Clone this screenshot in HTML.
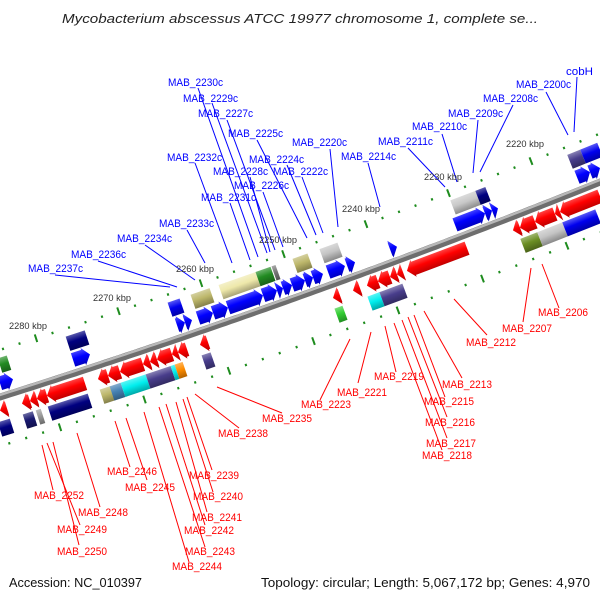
<!DOCTYPE html>
<html><head><meta charset="utf-8"><style>
html,body{margin:0;padding:0;background:#fff;width:600px;height:600px;overflow:hidden}
svg{display:block;font-family:"Liberation Sans","DejaVu Sans",sans-serif}
</style></head><body>
<svg id="map" width="600" height="600" viewBox="0 0 600 600" xmlns="http://www.w3.org/2000/svg">
<defs id="defs"></defs>
<rect width="600" height="600" fill="#fff"/>
<text x="300" y="23" text-anchor="middle" font-size="13" font-style="italic" fill="#222" textLength="476" lengthAdjust="spacingAndGlyphs">Mycobacterium abscessus ATCC 19977 chromosome 1, complete se...</text>
<g id="lines"></g>
<g id="ticks"></g>
<g id="backbone"></g>
<g id="feats"></g>
<g id="labels"></g>
<text x="9" y="587" font-size="13" fill="#111" textLength="133" lengthAdjust="spacingAndGlyphs">Accession: NC_010397</text>
<text x="590" y="587" text-anchor="end" font-size="13" fill="#111" textLength="329" lengthAdjust="spacingAndGlyphs">Topology: circular; Length: 5,067,172 bp; Genes: 4,970</text>
</svg>
<script>
const Y0=397, B1=-0.315, C2=-7.2e-5;
const rowOffsets={B:-13,U:-30,R:13,L:31};
const blueGenes=[[0,13],[73,90],[177,185],[185,192],[198,213],[213,228],[228,263],[263,277],[277,283],[283,292],[292,305],[305,313],[313,323],[328,345],[347,355],[390,397],[455,485],[485,492],[492,498],[577,590],[590,600]];
const redGenes=[[0,7],[22,30],[30,37],[37,47],[47,85],[98,108],[108,120],[120,143],[143,150],[150,157],[157,172],[172,178],[178,187],[200,208],[333,340],[353,360],[367,378],[378,390],[390,397],[397,403],[407,467],[513,520],[520,535],[535,555],[555,560],[560,600]];
const upperBoxes=[[0,9,"#228b22"],[68,87,"#000080"],[170,182,"#0000ee"],[193,212,"#bdb76b"],[221,258,"#eee8aa"],[258,273,"#228b22"],[274,278,"#777777"],[295,310,"#bdb76b"],[322,340,"#c4c4c4"],[453,478,"#c8c8c8"],[478,488,"#000080"],[570,583,"#483d8b"],[583,600,"#0000ee"]];
const lowerBoxes=[[0,12,"#000080"],[25,35,"#191970"],[38,43,"#999999"],[50,90,"#000080"],[102,113,"#bdb76b"],[112,123,"#4682b4"],[123,148,"#00eeee"],[148,173,"#483d8b"],[173,177,"#00eeee"],[177,185,"#ff8c00"],[204,213,"#483d8b"],[337,345,"#32cd32"],[370,382,"#00eeee"],[382,405,"#483d8b"],[523,540,"#6b8e23"],[540,565,"#c4c4c4"],[565,598,"#0000ee"]];
const upperTickStart=531, upperTickStep=82.5;
const lowerTickStart=567, lowerTickStep=84.5;
const tickLabels=[["2220 kbp",506,147],["2230 kbp",424,180],["2240 kbp",342,212],["2250 kbp",259,243],["2260 kbp",176,272],["2270 kbp",93,301],["2280 kbp",9,329]];
const blueLabels=[
["MAB_2230c",168,86,198,88,258,257],["MAB_2229c",183,102,212,103,267,253],["MAB_2227c",198,117,227,120,275,250],
["MAB_2225c",228,137,257,140,307,238],["MAB_2220c",292,146,330,149,338,227],["MAB_2214c",341,160,368,163,380,207],
["MAB_2232c",167,161,195,163,232,263],["MAB_2224c",249,163,287,165,316,235],["MAB_2228c",213,175,250,177,270,252],
["MAB_2222c",273,175,302,177,323,233],["MAB_2226c",234,189,263,192,283,247],["MAB_2231c",201,201,230,203,250,260],
["MAB_2233c",159,227,187,230,205,263],["MAB_2234c",117,242,145,245,195,280],["MAB_2236c",71,258,98,261,177,287],
["MAB_2237c",28,272,55,275,170,287],["MAB_2211c",378,145,408,148,445,187],["MAB_2210c",412,130,442,134,457,182],
["MAB_2209c",448,117,478,120,473,173],["MAB_2208c",483,102,513,105,480,172],["MAB_2200c",516,88,546,92,568,135],
["cobH",566,75,577,77,574,132]];
const redLabels=[
["MAB_2206",538,316,542,264,559,308],["MAB_2207",502,332,531,268,523,322],["MAB_2212",466,346,454,299,487,335],
["MAB_2219",374,380,385,326,396,372],["MAB_2213",442,388,424,311,462,378],["MAB_2221",337,396,371,332,358,383],
["MAB_2215",424,405,414,315,445,397],["MAB_2223",301,408,350,339,320,400],["MAB_2235",262,422,217,387,282,413],
["MAB_2216",425,426,408,317,447,417],["MAB_2217",426,447,402,320,447,438],["MAB_2218",422,459,394,323,442,450],
["MAB_2238",218,437,195,394,239,428],["MAB_2246",107,475,115,421,130,467],["MAB_2239",189,479,187,397,212,470],
["MAB_2245",125,491,126,418,147,480],["MAB_2252",34,499,42,445,53,490],["MAB_2240",193,500,183,399,213,492],
["MAB_2248",78,516,77,433,100,507],["MAB_2241",192,521,176,402,207,512],["MAB_2249",57,533,47,443,80,525],
["MAB_2242",184,534,166,404,205,525],["MAB_2250",57,555,53,442,79,545],["MAB_2243",185,555,159,407,205,547],
["MAB_2244",172,570,144,412,189,562]];

const NS="http://www.w3.org/2000/svg";
function mk(tag,attrs,parent){const e=document.createElementNS(NS,tag);for(const k in attrs)e.setAttribute(k,attrs[k]);parent.appendChild(e);return e;}
function by(x){return Y0+B1*x+C2*x*x;}
function ang(x){return Math.atan(B1+2*C2*x);}
function place(xs,v){let xb=xs;for(let i=0;i<3;i++){const a=ang(xb);xb=xs+v*Math.sin(a);}const a=ang(xb);return {x:xb-v*Math.sin(a),y:by(xb)+v*Math.cos(a),a:a};}
const defs=document.getElementById('defs');
const grads={};
function shade(hex,f){let r=parseInt(hex.substr(1,2),16),g=parseInt(hex.substr(3,2),16),b=parseInt(hex.substr(5,2),16);
 if(f>0){r=r+(255-r)*f;g=g+(255-g)*f;b=b+(255-b)*f;}else{r*=1+f;g*=1+f;b*=1+f;}
 return "rgb("+Math.round(r)+","+Math.round(g)+","+Math.round(b)+")";}
function grad(c){if(grads[c])return grads[c];const id="g"+Object.keys(grads).length;
 const lg=mk('linearGradient',{id:id,x1:0,y1:0,x2:0,y2:1},defs);
 mk('stop',{offset:0,'stop-color':shade(c,0.35)},lg);mk('stop',{offset:0.45,'stop-color':c},lg);mk('stop',{offset:1,'stop-color':shade(c,-0.3)},lg);
 grads[c]="url(#"+id+")";return grads[c];}

const bb=document.getElementById('backbone');
let d="";for(let x=-10;x<=610;x+=5){d+=(x===-10?"M":"L")+x+","+by(x).toFixed(1);}
const bl=mk('path',{d:d,fill:"none",stroke:"#6e6e6e","stroke-width":7},bb);


let d2="";for(let x=-10;x<=610;x+=5){const p=place(x,-2);d2+=(x===-10?"M":"L")+p.x.toFixed(1)+","+p.y.toFixed(1);}
const bh=mk('path',{d:d2,fill:"none",stroke:"#b8b8b8","stroke-width":2.5},bb);



const feats=document.getElementById('feats');
function feature(x1,x2,v,color,type,name){
 const p=place((x1+x2)/2,v);const L=(x2-x1)/Math.cos(p.a);const g=mk('g',{transform:"translate("+p.x.toFixed(2)+","+p.y.toFixed(2)+") rotate("+(p.a*180/Math.PI).toFixed(2)+")"},feats);
 
 
 const h=L/2;let pts;
 if(type==="box"){mk('rect',{x:-h,y:-7.5,width:L,height:15,fill:grad(color)},g);return;}
 const head=Math.min(7,L);
 if(type==="right"){const be=h-head;pts=head>=L?[[-h,-9],[h,0],[-h,9]]:[[-h,-7],[be,-7],[be,-9],[h,0],[be,9],[be,7],[-h,7]];}
 else{const be=-h+head;pts=head>=L?[[h,-9],[-h,0],[h,9]]:[[h,-7],[be,-7],[be,-9],[-h,0],[be,9],[be,7],[h,7]];}
 mk('polygon',{points:pts.map(q=>q[0].toFixed(1)+","+q[1].toFixed(1)).join(" "),fill:grad(color)},g);
}
blueGenes.forEach(f=>feature(f[0],f[1],rowOffsets.B,"#0000ff","right","forward-gene"));
redGenes.forEach(f=>feature(f[0],f[1],rowOffsets.R,"#ff0000","left","reverse-gene"));
upperBoxes.forEach(f=>feature(f[0],f[1],rowOffsets.U,f[2],"box","upper-feature-box"));
lowerBoxes.forEach(f=>feature(f[0],f[1],rowOffsets.L,f[2],"box","lower-feature-box"));

const tk=document.getElementById('ticks');
function scaleLine(start,step,v,name){
 const sub=step/5;
 for(let i=-40;i<=40;i++){const x=start+i*sub;if(x<-5||x>605)continue;const p=place(x,v);
  const major=(i%5===0);
  const r=mk('rect',{x:-1,y:major?-4:-1.2,width:2,height:major?8:2.4,fill:"#1e8c1e",transform:"translate("+p.x.toFixed(1)+","+p.y.toFixed(1)+") rotate("+(p.a*180/Math.PI).toFixed(1)+")"},tk);
  
  }
}
scaleLine(upperTickStart,upperTickStep,-45,'upper-scale');
scaleLine(lowerTickStart,lowerTickStep,47,'lower-scale');
tickLabels.forEach(t=>{const e=mk('text',{x:t[1],y:t[2],'font-size':9.5,fill:"#333",textLength:38,lengthAdjust:"spacingAndGlyphs"},tk);e.textContent=t[0];
 
 });

const ln=document.getElementById('lines'),lb=document.getElementById('labels');
function addLabels(arr,color,nm){arr.forEach(l=>{
 const line=mk('line',{x1:l[3],y1:l[4],x2:l[5],y2:l[6],stroke:color,"stroke-width":1},ln);
 
 
 const w=l[0]==="cobH"?27:(l[0].length===9?55:50);
 const t=mk('text',{x:l[1],y:l[2],'font-size':11,fill:color,textLength:w,lengthAdjust:"spacingAndGlyphs"},lb);t.textContent=l[0];
 
 
});}
addLabels(blueLabels,"#0000ff","forward");
addLabels(redLabels,"#ff0000","reverse");
</script>
</body></html>
